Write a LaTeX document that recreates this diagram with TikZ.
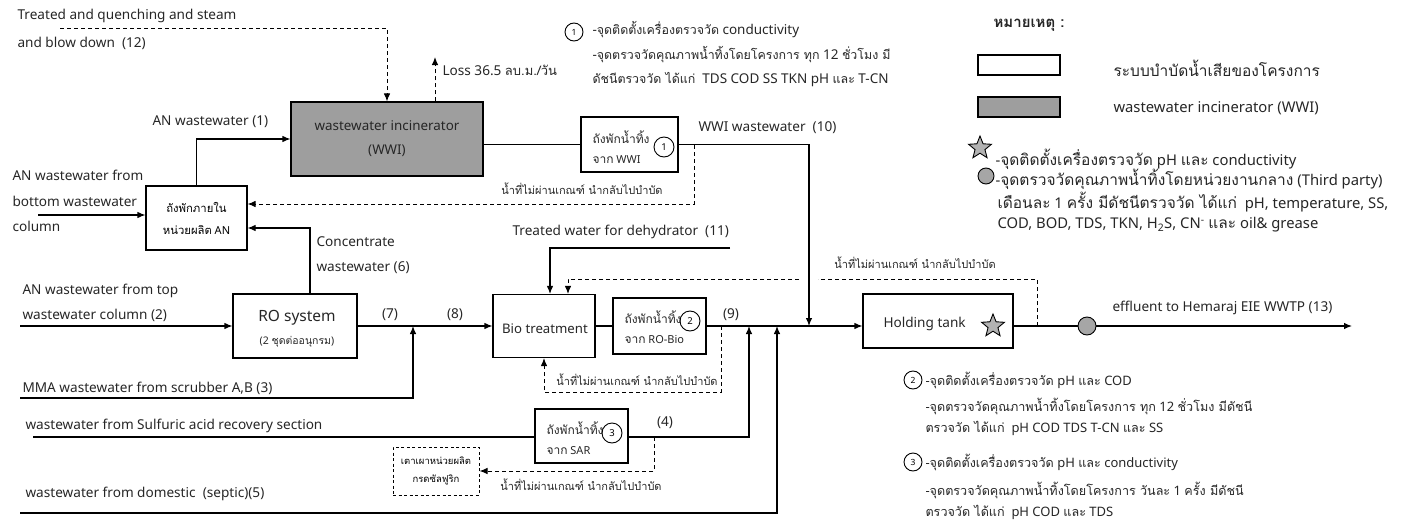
\documentclass[tikz,border=0pt]{standalone}
\usepackage{fontspec}
\setmainfont{Noto Sans}
\newfontfamily\thaifont[Script=Thai]{Loma}
\newcommand\thsize{12pt}
\newcommand\thx[1]{{\thaifont\fontsize{\thsize}{\the\baselineskip}\selectfont #1}}
\usetikzlibrary{arrows.meta,shapes.geometric,calc}
\begin{document}
\begin{tikzpicture}[x=1pt,y=-1pt,
  line width=1.1pt,
  flow/.style={-{Latex[length=8pt,width=6.5pt]}},
  ret/.style={dash pattern=on 4pt off 3pt, line width=1pt},
  box/.style={draw, line width=1.1pt, inner sep=0pt},
  wwifill/.style={fill=black!38},
  lbl/.style={inner sep=0pt, anchor=west, font=\fontsize{13.6}{16}\selectfont\renewcommand\thsize{13pt}, text=black!85},
  mid/.style={inner sep=0pt, font=\fontsize{13.6}{16}\selectfont, text=black!85},
  sml/.style={inner sep=0pt, anchor=west, align=left, font=\fontsize{11}{20}\selectfont\renewcommand\thsize{12pt}, text=black!85},
  rsml/.style={inner sep=0pt, font=\fontsize{11}{12}\selectfont\renewcommand\thsize{11pt}, text=black!85},
  note/.style={inner sep=0pt, anchor=west, font=\fontsize{13.5}{15}\selectfont\renewcommand\thsize{12.4pt}, text=black!85},
  leg/.style={inner sep=0pt, anchor=west, font=\fontsize{14.8}{17}\selectfont\renewcommand\thsize{15.5pt}, text=black!85},
  legs/.style={inner sep=0pt, anchor=west, font=\fontsize{13}{15}\selectfont\renewcommand\thsize{12.6pt}, text=black!85},
  num/.style={circle, draw, line width=0.9pt, inner sep=0pt, minimum size=20pt, font=\fontsize{9.5}{10}\selectfont},
  lnum/.style={circle, draw, line width=0.9pt, inner sep=0pt, minimum size=18pt, font=\fontsize{8.5}{10}\selectfont},
  starmark/.style={star, star points=5, star point ratio=2.3, draw, line width=0.9pt, fill=black!30, inner sep=0pt, minimum size=24pt},
  dotmark/.style={circle, draw, line width=0.9pt, fill=black!35, inner sep=0pt, minimum size=18pt}
]
\useasboundingbox (0,0) rectangle (1409,522);

% ---------- boxes ----------
\node[box, wwifill, minimum width=192pt, minimum height=74pt, align=center,
      font=\fontsize{13.4}{24}\selectfont, text=black!85] (wwi) at (387,139) {wastewater incinerator\\(WWI)};
\node[box, minimum width=101pt, minimum height=64pt, align=center,
      font=\fontsize{11}{22}\selectfont\renewcommand\thsize{11.3pt}] (antank) at (196.5,218) {\thx{ถังพักภายใน}\\\thx{หน่วยผลิต} AN};
\node[box, minimum width=124pt, minimum height=64pt] (ro) at (295,326) {};
\node[mid, font=\fontsize{15.5}{17}\selectfont] (rot) at (297,318) {RO system};
\node[rsml, font=\fontsize{10.5}{12}\selectfont\renewcommand\thsize{10.5pt}] (rot2) at (297,342) {(2 \thx{ชุดต่ออนุกรม})};
\node[box, minimum width=102pt, minimum height=63pt] (bio) at (544,326) {};
\node[mid, font=\fontsize{13.2}{15}\selectfont] (biot) at (545,329) {Bio treatment};
\node[box, minimum width=93pt, minimum height=56pt] (robio) at (659.5,326) {};
\node[sml] (robiot) at (624,327) {\thx{ถังพักน้ำทิ้ง}\\\thx{จาก} RO-Bio};
\node[num] (n2) at (690,321) {2};
\node[box, minimum width=97pt, minimum height=55pt] (wwitank) at (629.5,144.5) {};
\node[sml] (wwitankt) at (592,147) {\thx{ถังพักน้ำทิ้ง}\\\thx{จาก} WWI};
\node[num] (n1) at (664,147) {1};
\node[box, minimum width=93pt, minimum height=54pt] (sar) at (581.5,436) {};
\node[sml] (sart) at (546,438) {\thx{ถังพักน้ำทิ้ง}\\\thx{จาก} SAR};
\node[num] (n3) at (612,433) {3};
\node[box, dash pattern=on 3pt off 2.5pt, line width=1pt, minimum width=86pt, minimum height=48pt, align=center,
      font=\fontsize{9.5}{18}\selectfont\renewcommand\thsize{9.5pt}] (furn) at (436,471) {\thx{เตาเผาหน่วยผลิต}\\\thx{กรดซัลฟูริก}};
\node[box, minimum width=150pt, minimum height=54pt] (hold) at (938,321) {};
\node[lbl] (holdt) at (883,324) {Holding tank};
\node[starmark] (st1) at (993,326) {};

% ---------- coordinates ----------
\coordinate (c12) at (60,28);
\coordinate (loss) at (435,57);
\coordinate (inB) at (38,215);
\coordinate (inT) at (20,326);
\coordinate (inM) at (20,398);
\coordinate (inS) at (33,437);
\coordinate (inD) at (20,513);
\coordinate (j8) at (413,326);
\coordinate (j4) at (749,326);
\coordinate (j5) at (777,326);
\coordinate (j10) at (809,326);
\coordinate (d1) at (694,145);
\coordinate (d2) at (721,326);
\coordinate (d3) at (1037,326);
\coordinate (d4) at (654,437);
\coordinate (c11) at (730,248);
\coordinate (g1) at (818,279);
\coordinate (g2) at (799,279);
\coordinate (out) at (1352,326);
\node[dotmark] (gc) at (1087,326) {};

% ---------- connectors ----------
\draw[ret, flow] (c12) -| (wwi.north);
\draw[ret, flow] (wwi.north -| loss) -- (loss);
\draw[flow] (antank.north) |- (wwi.west);
\draw[flow] (inB) -- (inB -| antank.west);
\draw[ret, flow] (d1) |- ($(antank.east)+(0,-14)$);
\draw[flow] ($(ro.north)+(15,0)$) |- ($(antank.east)+(0,10)$);
\draw[flow] (inT) -- (ro.west);
\draw[flow] (ro.east) -- (bio.west);
\draw[flow] (inM) -| (j8);
\draw (bio.east) -- (robio.west);
\draw[flow] (robio.east) -- (robio.east -| hold.west);
\draw (wwitank.west -| wwi.east) -- (wwitank.west);
\draw[flow] (wwitank.east) -| (j10);
\draw[flow] (c11) -| ($(bio.north)+(6,0)$);
\draw[ret] (d3) |- (g1);
\draw[ret, flow] (g2) -| ($(bio.north)+(24,0)$);
\draw[ret, flow] (d2) -- ++(0,66) -| (bio.south);
\draw (inS) -- (inS -| sar.west);
\draw[flow] (sar.east |- inS) -| (j4);
\draw[ret, flow] (d4) |- (furn.east);
\draw[flow] (inD) -| (j5);
\draw (gc.west -| hold.east) -- (gc.west);
\draw[flow] (gc.east) -- (out);

% ---------- labels ----------
\node[lbl] (t12a) at (17,16) {Treated and quenching and steam};
\node[lbl] (t12b) at (17,43) {and blow down\ \ (12)};
\node[lbl] (tloss) at (442,70) {Loss 36.5 \thx{ลบ.ม./วัน}};
\node[lbl] (t1) at (152,122) {AN wastewater (1)};
\node[lbl, align=left, font=\fontsize{13.6}{25.5}\selectfont] (tbot) at (12,201) {AN wastewater from\\bottom wastewater\\column};
\node[lbl, align=left, font=\fontsize{13.6}{25}\selectfont] (t6) at (316,255) {Concentrate\\wastewater (6)};
\node[lbl, align=left, font=\fontsize{13.6}{25}\selectfont] (t2) at (22,303) {AN wastewater from top\\wastewater column (2)};
\node[mid] (t7) at (390,315) {(7)};
\node[mid] (t8) at (455,315) {(8)};
\node[mid] (t9) at (731,315) {(9)};
\node[mid] (t4) at (665,423) {(4)};
\node[lbl] (t3) at (22,388) {MMA wastewater from scrubber A,B (3)};
\node[lbl] (ts) at (25,426) {wastewater from Sulfuric acid recovery section};
\node[lbl] (t5) at (25,494) {wastewater from domestic\ \ (septic)(5)};
\node[lbl] (t11) at (512,232) {Treated water for dehydrator\ \ (11)};
\node[lbl] (t10) at (698,128) {WWI wastewater\ \ (10)};
\node[lbl] (t13) at (1112,308) {effluent to Hemaraj EIE WWTP (13)};
\node[rsml] (r1) at (582,189) {\thx{น้ำที่ไม่ผ่านเกณฑ์ นำกลับไปบำบัด}};
\node[rsml] (r2) at (637,380) {\thx{น้ำที่ไม่ผ่านเกณฑ์ นำกลับไปบำบัด}};
\node[rsml] (r3) at (581,485) {\thx{น้ำที่ไม่ผ่านเกณฑ์ นำกลับไปบำบัด}};
\node[rsml] (r4) at (915,263) {\thx{น้ำที่ไม่ผ่านเกณฑ์ นำกลับไปบำบัด}};

% ---------- note 1 ----------
\node[lnum] (ln1) at (574,32) {1};
\node[note] (l1a) at (592,30) {-\thx{จุดติดตั้งเครื่องตรวจวัด} conductivity};
\node[note] (l1b) at (592,55) {-\thx{จุดตรวจวัดคุณภาพน้ำทิ้งโดยโครงการ ทุก} 12 \thx{ชั่วโมง มี}};
\node[note] (l1c) at (592,80) {\thx{ดัชนีตรวจวัด ได้แก่}\ \ TDS COD SS TKN pH \thx{และ} T-CN};

% ---------- legend ----------
\node[leg, font=\fontsize{14}{16}\selectfont\bfseries\renewcommand\thsize{15pt}] (lh) at (993,25) {\thx{หมายเหตุ :}};
\node[box, minimum width=82pt, minimum height=20pt] (lwb) at (1019,65) {};
\node[leg] (lwt) at (1113,68) {\thx{ระบบบำบัดน้ำเสียของโครงการ}};
\node[box, wwifill, minimum width=82pt, minimum height=20pt] (lgb) at (1019,107) {};
\node[leg] (lgt) at (1113,108) {wastewater incinerator (WWI)};
\node[starmark] (lst) at (980,148) {};
\node[leg] (lstt) at (995,159) {-\thx{จุดติดตั้งเครื่องตรวจวัด} pH \thx{และ} conductivity};
\node[dotmark, minimum size=16pt] (ldot) at (986,176) {};
\node[leg] (ldt1) at (995,179) {-\thx{จุดตรวจวัดคุณภาพน้ำทิ้งโดยหน่วยงานกลาง} (Third party)};
\node[leg] (ldt2) at (997,202) {\thx{เดือนละ} 1 \thx{ครั้ง มีดัชนีตรวจวัด ได้แก่}\ \ pH, temperature, SS,};
\node[leg] (ldt3) at (997,225) {COD, BOD, TDS, TKN, H\textsubscript{2}S, CN\textsuperscript{-} \thx{และ} oil\& grease};

% ---------- notes 2, 3 ----------
\node[lnum] (ln2) at (913,380) {2};
\node[legs] (l2a) at (925,380) {-\thx{จุดติดตั้งเครื่องตรวจวัด} pH \thx{และ} COD};
\node[legs] (l2b) at (925,406) {-\thx{จุดตรวจวัดคุณภาพน้ำทิ้งโดยโครงการ ทุก} 12 \thx{ชั่วโมง มีดัชนี}};
\node[legs] (l2c) at (925,428) {\thx{ตรวจวัด ได้แก่}\ \ pH COD TDS T-CN \thx{และ} SS};
\node[lnum] (ln3) at (913,462) {3};
\node[legs] (l3a) at (925,462) {-\thx{จุดติดตั้งเครื่องตรวจวัด} pH \thx{และ} conductivity};
\node[legs] (l3b) at (925,490) {-\thx{จุดตรวจวัดคุณภาพน้ำทิ้งโดยโครงการ วันละ} 1 \thx{ครั้ง มีดัชนี}};
\node[legs] (l3c) at (925,512) {\thx{ตรวจวัด ได้แก่}\ \ pH COD \thx{และ} TDS};
\end{tikzpicture}
\end{document}
